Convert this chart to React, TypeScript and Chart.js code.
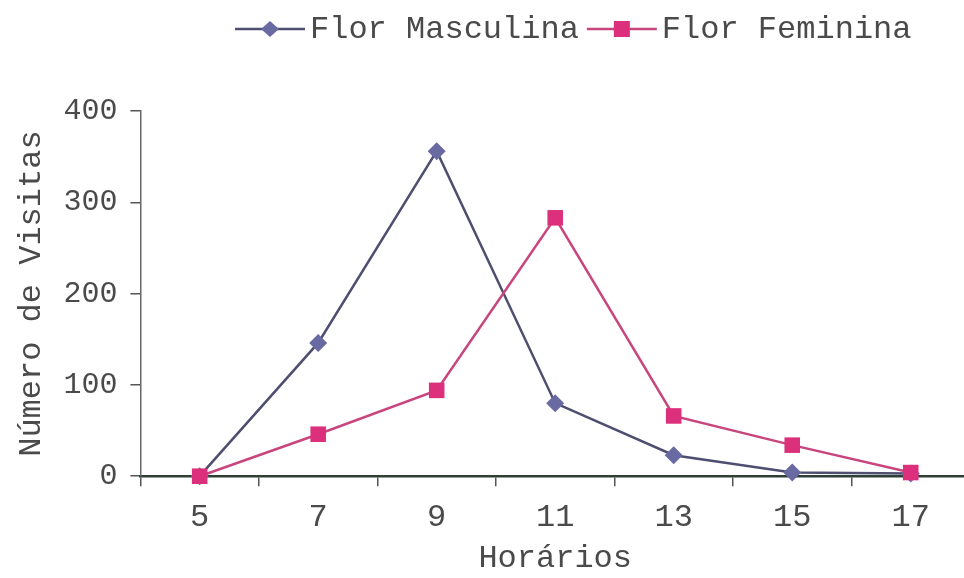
import React, { useEffect, useRef } from "react";
import { Chart, registerables } from "chart.js";

Chart.register(...registerables);

const categories = ["5", "7", "9", "11", "13", "15", "17"];
const seriesNames = ["Flor Masculina", "Flor Feminina"];
const masculina = [0, 146, 356, 80, 23, 4, 3];
const feminina = [0, 46, 94, 283, 66, 34, 4];
const yTicks = [0, 100, 200, 300, 400];
const xTitle = "Horários";
const yTitle = "Número de Visitas";

const FONT = "'Liberation Mono', 'DejaVu Sans Mono', monospace";
const TEXT = "#4a4a4a";
const M_LINE = "#4e4e70";
const M_POINT = "#6a6aa2";
const F_LINE = "#c8457e";
const F_POINT = "#dc2f7c";

const CANVAS_W = 981;
const CANVAS_H = 578;

const legendPlugin = {
  id: "customLegend",
  afterDraw(chart: any) {
    const ctx = chart.ctx;
    ctx.save();
    ctx.font = `32px ${FONT}`;
    ctx.textBaseline = "middle";
    const y = 29;
    let x = 235;
    const items = [
      { name: seriesNames[0], line: M_LINE, point: M_POINT, style: "diamond" },
      { name: seriesNames[1], line: F_LINE, point: F_POINT, style: "square" },
    ];
    items.forEach((it) => {
      ctx.strokeStyle = it.line;
      ctx.lineWidth = 2.5;
      ctx.beginPath();
      ctx.moveTo(x, y);
      ctx.lineTo(x + 70, y);
      ctx.stroke();
      ctx.fillStyle = it.point;
      const cx = x + 35;
      if (it.style === "diamond") {
        ctx.beginPath();
        ctx.moveTo(cx, y - 8);
        ctx.lineTo(cx + 9, y);
        ctx.lineTo(cx, y + 8);
        ctx.lineTo(cx - 9, y);
        ctx.closePath();
        ctx.fill();
      } else {
        ctx.fillRect(cx - 8, y - 8, 16, 16);
      }
      ctx.fillStyle = TEXT;
      ctx.textAlign = "left";
      ctx.fillText(it.name, x + 75, y + 1);
      x += 75 + ctx.measureText(it.name).width + 8;
    });
    ctx.restore();
  },
};

export default function App() {
  const ref = useRef<HTMLCanvasElement>(null);
  useEffect(() => {
    if (!ref.current) return;
    const chart = new Chart(ref.current, {
      type: "line",
      data: {
        labels: categories,
        datasets: [
          {
            label: seriesNames[0],
            data: masculina,
            borderColor: M_LINE,
            backgroundColor: M_POINT,
            borderWidth: 2.5,
            pointStyle: "rectRot",
            pointRadius: 9,
            pointBorderWidth: 0,
            pointBackgroundColor: M_POINT,
            tension: 0,
            clip: false,
            order: 2,
          },
          {
            label: seriesNames[1],
            data: feminina,
            borderColor: F_LINE,
            backgroundColor: F_POINT,
            borderWidth: 2.5,
            pointStyle: "rect",
            pointRadius: 11,
            pointBorderWidth: 0,
            pointBackgroundColor: F_POINT,
            tension: 0,
            clip: false,
            order: 1,
          },
        ],
      },
      options: {
        animation: false,
        responsive: false,
        layout: { padding: { top: 111, left: 12, right: 0, bottom: 0 } },
        plugins: {
          legend: { display: false },
          tooltip: { enabled: false },
        },
        scales: {
          x: {
            offset: true,
            grid: {
              offset: true,
              drawOnChartArea: false,
              drawTicks: true,
              tickLength: 10,
              color: "#555",
              lineWidth: 1.5,
            },
            border: { display: true, color: "#2f3f36", width: 2.5 },
            ticks: {
              color: TEXT,
              font: { family: FONT, size: 32 },
              padding: 12,
              maxRotation: 0,
            },
            title: {
              display: true,
              text: xTitle,
              color: TEXT,
              font: { family: FONT, size: 32 },
              padding: { top: -9, bottom: 0 },
            },
          },
          y: {
            min: 0,
            max: 400,
            afterBuildTicks: (scale: any) => {
              scale.ticks = yTicks.map((v) => ({ value: v }));
            },
            grid: {
              drawOnChartArea: false,
              drawTicks: true,
              tickLength: 10,
              color: "#555",
              lineWidth: 1.5,
            },
            border: { display: true, color: "#666", width: 1.5 },
            ticks: {
              color: TEXT,
              font: { family: FONT, size: 30 },
              padding: 13,
            },
            title: {
              display: true,
              text: yTitle,
              color: TEXT,
              font: { family: FONT, size: 32 },
              padding: { top: 0, bottom: 0 },
            },
          },
        },
      },
      plugins: [legendPlugin],
    });
    return () => chart.destroy();
  }, []);
  return (
    <div style={{ position: "absolute", left: 0, top: 0, width: 964, height: 578, overflow: "hidden", background: "#fff" }}>
      <canvas ref={ref} width={CANVAS_W} height={CANVAS_H} style={{ width: CANVAS_W, height: CANVAS_H, display: "block" }} />
    </div>
  );
}
